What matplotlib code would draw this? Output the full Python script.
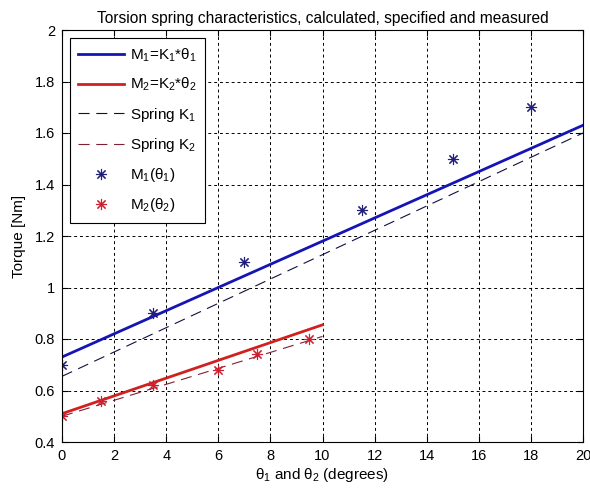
import numpy as np
import matplotlib
matplotlib.use("Agg")
import matplotlib.pyplot as plt

plt.rcParams['font.family'] = ['Liberation Sans', 'DejaVu Sans']
plt.rcParams['mathtext.fontset'] = 'custom'
plt.rcParams['mathtext.rm'] = 'Liberation Sans'
plt.rcParams['mathtext.it'] = 'Liberation Sans'

# calculated lines
m1_x = [0, 20]
m1_y = [0.73, 1.63]
m2_x = [0, 10]
m2_y = [0.51, 0.855]
# specified springs
k1_x = [0, 20]
k1_y = [0.655, 1.60]
k2_x = [0, 10]
k2_y = [0.50, 0.81]
# measured
meas1_x = [0, 3.5, 7, 11.5, 15, 18]
meas1_y = [0.70, 0.90, 1.10, 1.30, 1.50, 1.70]
meas2_x = [0, 1.5, 3.5, 6, 7.5, 9.5]
meas2_y = [0.50, 0.56, 0.62, 0.68, 0.74, 0.80]

fig = plt.figure(figsize=(5.9, 4.91), dpi=100)
ax = fig.add_axes([62/590, 1-442/491, (583-62)/590, (442-30)/491])

star = (8, 2, 0)
ax.plot(m1_x, m1_y, color='#1515b5', lw=2, label=r'M$_1$=K$_1$*$\theta_1$')
ax.plot(m2_x, m2_y, color='#d02020', lw=2, label=r'M$_2$=K$_2$*$\theta_2$')
ax.plot(k1_x, k1_y, color='#101040', lw=0.8, dashes=(10, 6), label=r'Spring K$_1$')
ax.plot(k2_x, k2_y, color='#802030', lw=0.8, dashes=(10, 6), label=r'Spring K$_2$')
ax.plot(meas1_x, meas1_y, ls='none', marker=star, ms=8, mew=0.8, color='#20207a', label=r'M$_1$($\theta_1$)')
ax.plot(meas2_x, meas2_y, ls='none', marker=star, ms=8, mew=0.8, color='#d02030', label=r'M$_2$($\theta_2$)')

ax.set_xlim(0, 20)
ax.set_ylim(0.4, 2)
ax.set_xticks(np.arange(0, 21, 2))
ax.set_yticks(np.arange(0.4, 2.01, 0.2))
ax.set_yticklabels(['0.4', '0.6', '0.8', '1', '1.2', '1.4', '1.6', '1.8', '2'])
ax.tick_params(direction='in', labelsize=10.5, top=True, right=True, length=4, pad=5)
ax.grid(True, color='black', ls=(0, (3, 3)), lw=0.7)
for s in ax.spines.values():
    s.set_linewidth(0.8)

ax.set_title('Torsion spring characteristics, calculated, specified and measured', fontsize=11.2, pad=5)
ax.set_xlabel(r'$\theta_1$ and $\theta_2$ (degrees)', fontsize=11, labelpad=2)
ax.set_ylabel('Torque [Nm]', fontsize=11, labelpad=6)

leg = ax.legend(loc='upper left', fontsize=11, fancybox=False, edgecolor='black',
                framealpha=1, handlelength=3.0, handletextpad=0.4, borderpad=0.55,
                labelspacing=0.8, borderaxespad=0, bbox_to_anchor=(8/521, 1-8/412))
leg.get_frame().set_linewidth(0.8)

fig.savefig('out.png', dpi=100)
